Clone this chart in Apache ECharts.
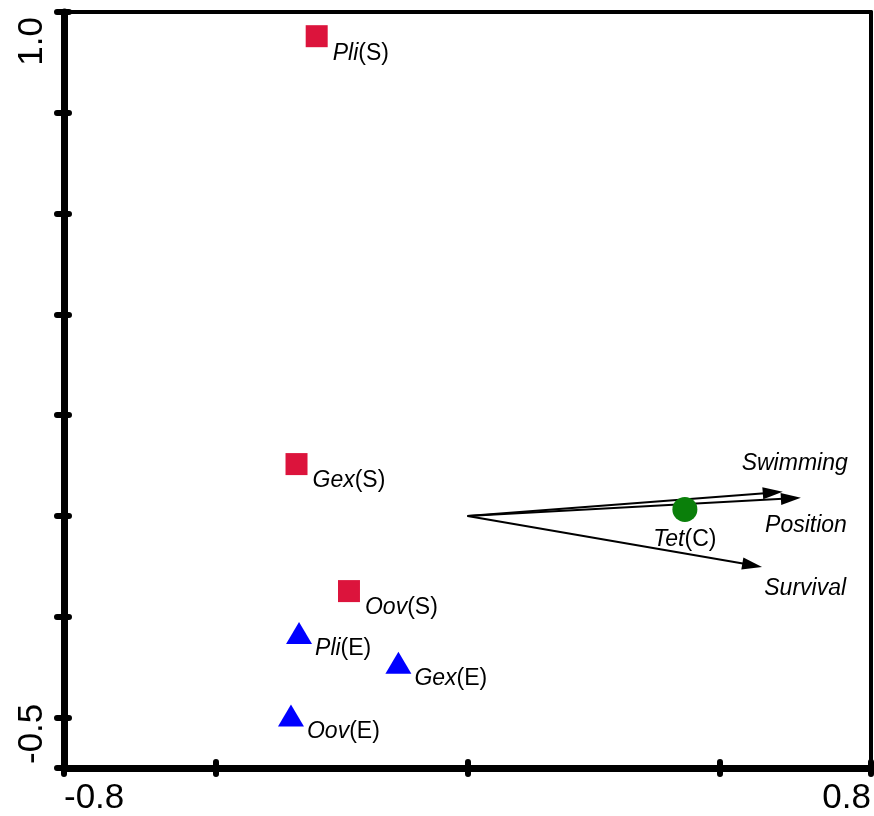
<!DOCTYPE html>
<html>
<head>
<meta charset="utf-8">
<script src="https://cdn.jsdelivr.net/npm/echarts@6/dist/echarts.min.js"></script>
<style>
  html, body { margin: 0; padding: 0; background: #fff; }
  #chart { width: 874px; height: 816px; }
</style>
</head>
<body>
<div id="chart"></div>
<script>
// Sample scores, grouped by marker
const squareNames = ['Pli', 'Gex', 'Oov'];
const squareCode = 'S';
const squareX = [-0.299, -0.339, -0.235];
const squareY = [0.952, 0.103, -0.149];

const triangleNames = ['Pli', 'Gex', 'Oov'];
const triangleCode = 'E';
const triangleX = [-0.334, -0.137, -0.350];
const triangleY = [-0.232, -0.291, -0.396];

const circleNames = ['Tet'];
const circleCode = 'C';
const circleX = [0.431];
const circleY = [0.013];

// Response variable vectors (drawn from the origin)
const varNames = ['Swimming', 'Position', 'Survival'];
const varX = [0.625, 0.661, 0.584];
const varY = [0.048, 0.036, -0.101];

// Axis ticks and labels
const xTicks = [-0.8, -0.5, 0, 0.5, 0.8];
const xLabels = [-0.8, 0.8];
const yTicks = [-0.5, -0.4, -0.2, 0, 0.2, 0.4, 0.6, 0.8, 1.0];
const yLabels = [-0.5, 1.0];

// Label placement for the vector names (pixels from the arrow tip)
const varLabelOffset = [[65, -28], [46, 28], [84, 22]];

const FONT = '"Liberation Sans", Arial, Helvetica, sans-serif';
const textRich = {
  i: { fontStyle: 'italic', fontSize: 23, fontFamily: FONT, color: '#000' },
  n: { fontSize: 23, fontFamily: FONT, color: '#000' }
};

function zipPoints(xs, ys, names) {
  return xs.map((x, k) => ({ value: [x, ys[k]], name: names[k] }));
}

const chart = echarts.init(document.getElementById('chart'), null, { renderer: 'canvas' });

const tickStyle = { color: '#000', width: 6, cap: 'round' };
const axisFont = { fontSize: 35, fontFamily: FONT, color: '#000' };

const option = {
  backgroundColor: '#fff',
  animation: false,
  grid: { left: 64, right: 2, top: 12, bottom: 46, containLabel: false },
  xAxis: [
    {
      type: 'value', min: -0.8, max: 0.8, position: 'bottom',
      axisLine: { show: true, onZero: false, lineStyle: { color: '#000', width: 7 } },
      axisTick: { show: true, inside: false, length: 6, customValues: xTicks, lineStyle: tickStyle },
      axisLabel: Object.assign({
        show: true, customValues: xLabels, margin: 13,
        formatter: v => v.toFixed(1),
        alignMinLabel: 'left', alignMaxLabel: 'right'
      }, axisFont),
      splitLine: { show: false }
    },
    {
      type: 'value', min: -0.8, max: 0.8, position: 'bottom',
      axisLine: { show: false, onZero: false },
      axisTick: { show: true, inside: true, length: 6, customValues: xTicks, lineStyle: tickStyle },
      axisLabel: { show: false },
      splitLine: { show: false }
    },
    {
      type: 'value', min: -0.8, max: 0.8, position: 'top',
      axisLine: { show: true, onZero: false, lineStyle: { color: '#000', width: 4 } },
      axisTick: { show: false }, axisLabel: { show: false }, splitLine: { show: false }
    }
  ],
  yAxis: [
    {
      type: 'value', min: -0.5, max: 1.0, position: 'left',
      axisLine: { show: true, onZero: false, lineStyle: { color: '#000', width: 7 } },
      axisTick: { show: true, inside: false, length: 7, customValues: yTicks, lineStyle: tickStyle },
      axisLabel: Object.assign({
        show: true, customValues: yLabels, rotate: 90, margin: 14,
        formatter: v => (v < 0 ? '{lo|' : '{hi|') + v.toFixed(1) + '}',
        rich: {
          lo: Object.assign({ padding: [0, 0, 0, 4] }, axisFont),
          hi: Object.assign({ padding: [0, 5, 0, 0] }, axisFont)
        },
        alignMinLabel: 'left', alignMaxLabel: 'right'
      }, axisFont),
      splitLine: { show: false }
    },
    {
      type: 'value', min: -0.5, max: 1.0, position: 'left',
      axisLine: { show: false, onZero: false },
      axisTick: { show: true, inside: true, length: 5, customValues: yTicks, lineStyle: tickStyle },
      axisLabel: { show: false },
      splitLine: { show: false }
    },
    {
      type: 'value', min: -0.5, max: 1.0, position: 'right',
      axisLine: { show: true, onZero: false, lineStyle: { color: '#000', width: 4 } },
      axisTick: { show: false }, axisLabel: { show: false }, splitLine: { show: false }
    }
  ],
  series: [
    {
      // vectors with arrow heads and italic names
      type: 'custom',
      z: 1,
      xAxisIndex: 0, yAxisIndex: 0,
      data: varX.map((x, k) => [x, varY[k]]),
      renderItem: function (params, api) {
        const i = params.dataIndex;
        const o = api.coord([0, 0]);
        const t = api.coord([api.value(0), api.value(1)]);
        const dx = t[0] - o[0], dy = t[1] - o[1];
        const len = Math.hypot(dx, dy);
        const ux = dx / len, uy = dy / len;
        const hl = 20, hw = 6;
        const b = [t[0] - ux * hl, t[1] - uy * hl];
        const off = varLabelOffset[i];
        return {
          type: 'group',
          children: [
            {
              type: 'line',
              shape: { x1: o[0], y1: o[1], x2: b[0] + ux * 2, y2: b[1] + uy * 2 },
              style: { stroke: '#000', lineWidth: 2 }
            },
            {
              type: 'polygon',
              shape: { points: [t, [b[0] - uy * hw, b[1] + ux * hw], [b[0] + uy * hw, b[1] - ux * hw]] },
              style: { fill: '#000' }
            },
            {
              type: 'text',
              x: t[0] + off[0], y: t[1] + off[1],
              style: {
                text: varNames[i], align: 'right', verticalAlign: 'middle',
                font: 'italic 23px ' + FONT, fill: '#000'
              }
            }
          ]
        };
      }
    },
    {
      type: 'scatter', z: 3,
      xAxisIndex: 0, yAxisIndex: 0,
      symbol: 'rect', symbolSize: 22,
      itemStyle: { color: '#dc143c', opacity: 1 },
      data: zipPoints(squareX, squareY, squareNames),
      label: {
        show: true, position: 'right', distance: 5, offset: [0, 17],
        formatter: p => '{i|' + p.name + '}{n|(' + squareCode + ')}',
        rich: textRich
      }
    },
    {
      type: 'scatter', z: 3,
      xAxisIndex: 0, yAxisIndex: 0,
      symbol: 'triangle', symbolSize: [26, 22],
      itemStyle: { color: '#0000ff', opacity: 1 },
      data: zipPoints(triangleX, triangleY, triangleNames),
      label: {
        show: true, position: 'right', distance: 3, offset: [0, 16],
        formatter: p => '{i|' + p.name + '}{n|(' + triangleCode + ')}',
        rich: textRich
      }
    },
    {
      type: 'scatter', z: 3,
      xAxisIndex: 0, yAxisIndex: 0,
      symbol: 'circle', symbolSize: 25,
      itemStyle: { color: '#0a7f0a', opacity: 1 },
      data: zipPoints(circleX, circleY, circleNames),
      label: {
        show: true, position: 'bottom', distance: 6,
        formatter: p => '{i|' + p.name + '}{n|(' + circleCode + ')}',
        rich: textRich
      }
    }
  ]
};

chart.setOption(option);
</script>
</body>
</html>
